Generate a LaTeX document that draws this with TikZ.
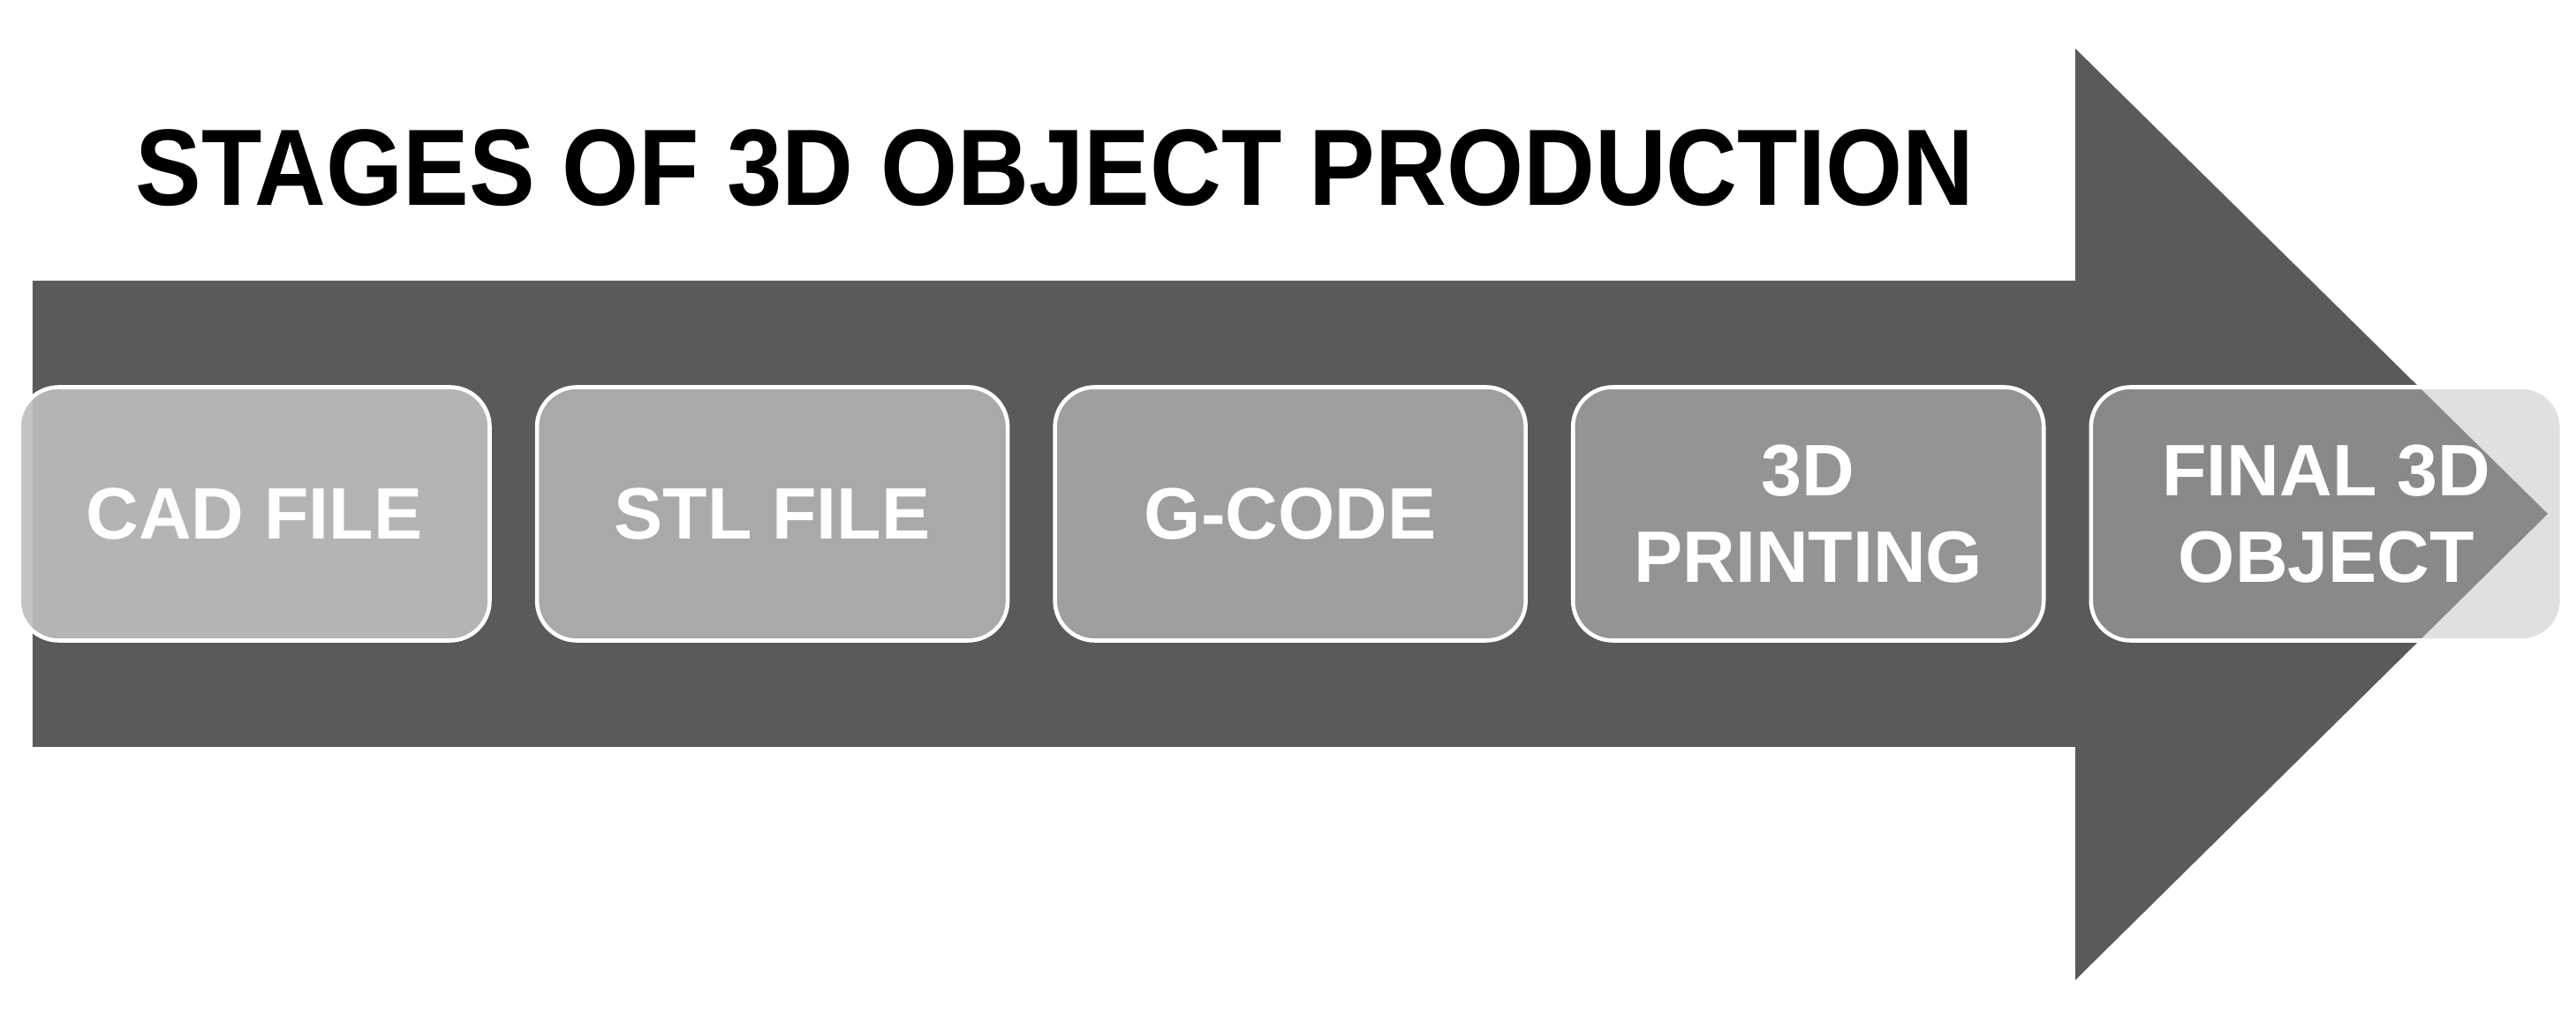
\documentclass[tikz,border=0pt]{standalone}
\usepackage{fontspec}
\setmainfont{Liberation Sans}
\newfontfamily\titlefont{Liberation Sans}
\newfontfamily\stagefont{Liberation Sans}
\usepackage{tikz}
\usetikzlibrary{positioning}
\definecolor{arrowgray}{HTML}{5A5A5A}
\definecolor{boxgray}{HTML}{BEBEBE}

\begin{document}
\begin{tikzpicture}[
  stage/.style={draw=white, line width=1.3pt, fill=boxgray, rounded corners=0.45cm,
    minimum width=5.33cm, minimum height=2.87cm, inner sep=0pt, align=center,
    text=white, text opacity=1, font=\stagefont\bfseries\fontsize{23.5}{28}\selectfont},
  node distance=0.49cm
]
\useasboundingbox (0,0) rectangle (29.17,11.53);
% big arrow
\fill[arrowgray] (0.37,8.35) -- (23.50,8.35) -- (23.50,10.98) -- (28.85,5.71)
  -- (23.50,0.43) -- (23.50,3.07) -- (0.37,3.07) -- cycle;
% title
\node[anchor=base west, inner sep=0pt, font=\titlefont\bfseries\fontsize{35}{42}\selectfont] (title) at (1.53,9.20) {\scalebox{0.91}[1]{STAGES OF 3D OBJECT PRODUCTION}};
% stages
\node[stage, fill opacity=0.9] (cad) at (2.88,5.71) {CAD FILE};
\node[stage, fill opacity=0.795, right=of cad] (stl) {STL FILE};
\node[stage, fill opacity=0.69, right=of stl] (gcode) {G-CODE};
\node[stage, fill opacity=0.585, right=of gcode] (printing) {3D\\PRINTING};
\node[stage, fill opacity=0.48, right=of printing] (final) {FINAL 3D\\OBJECT};
\end{tikzpicture}
\end{document}
